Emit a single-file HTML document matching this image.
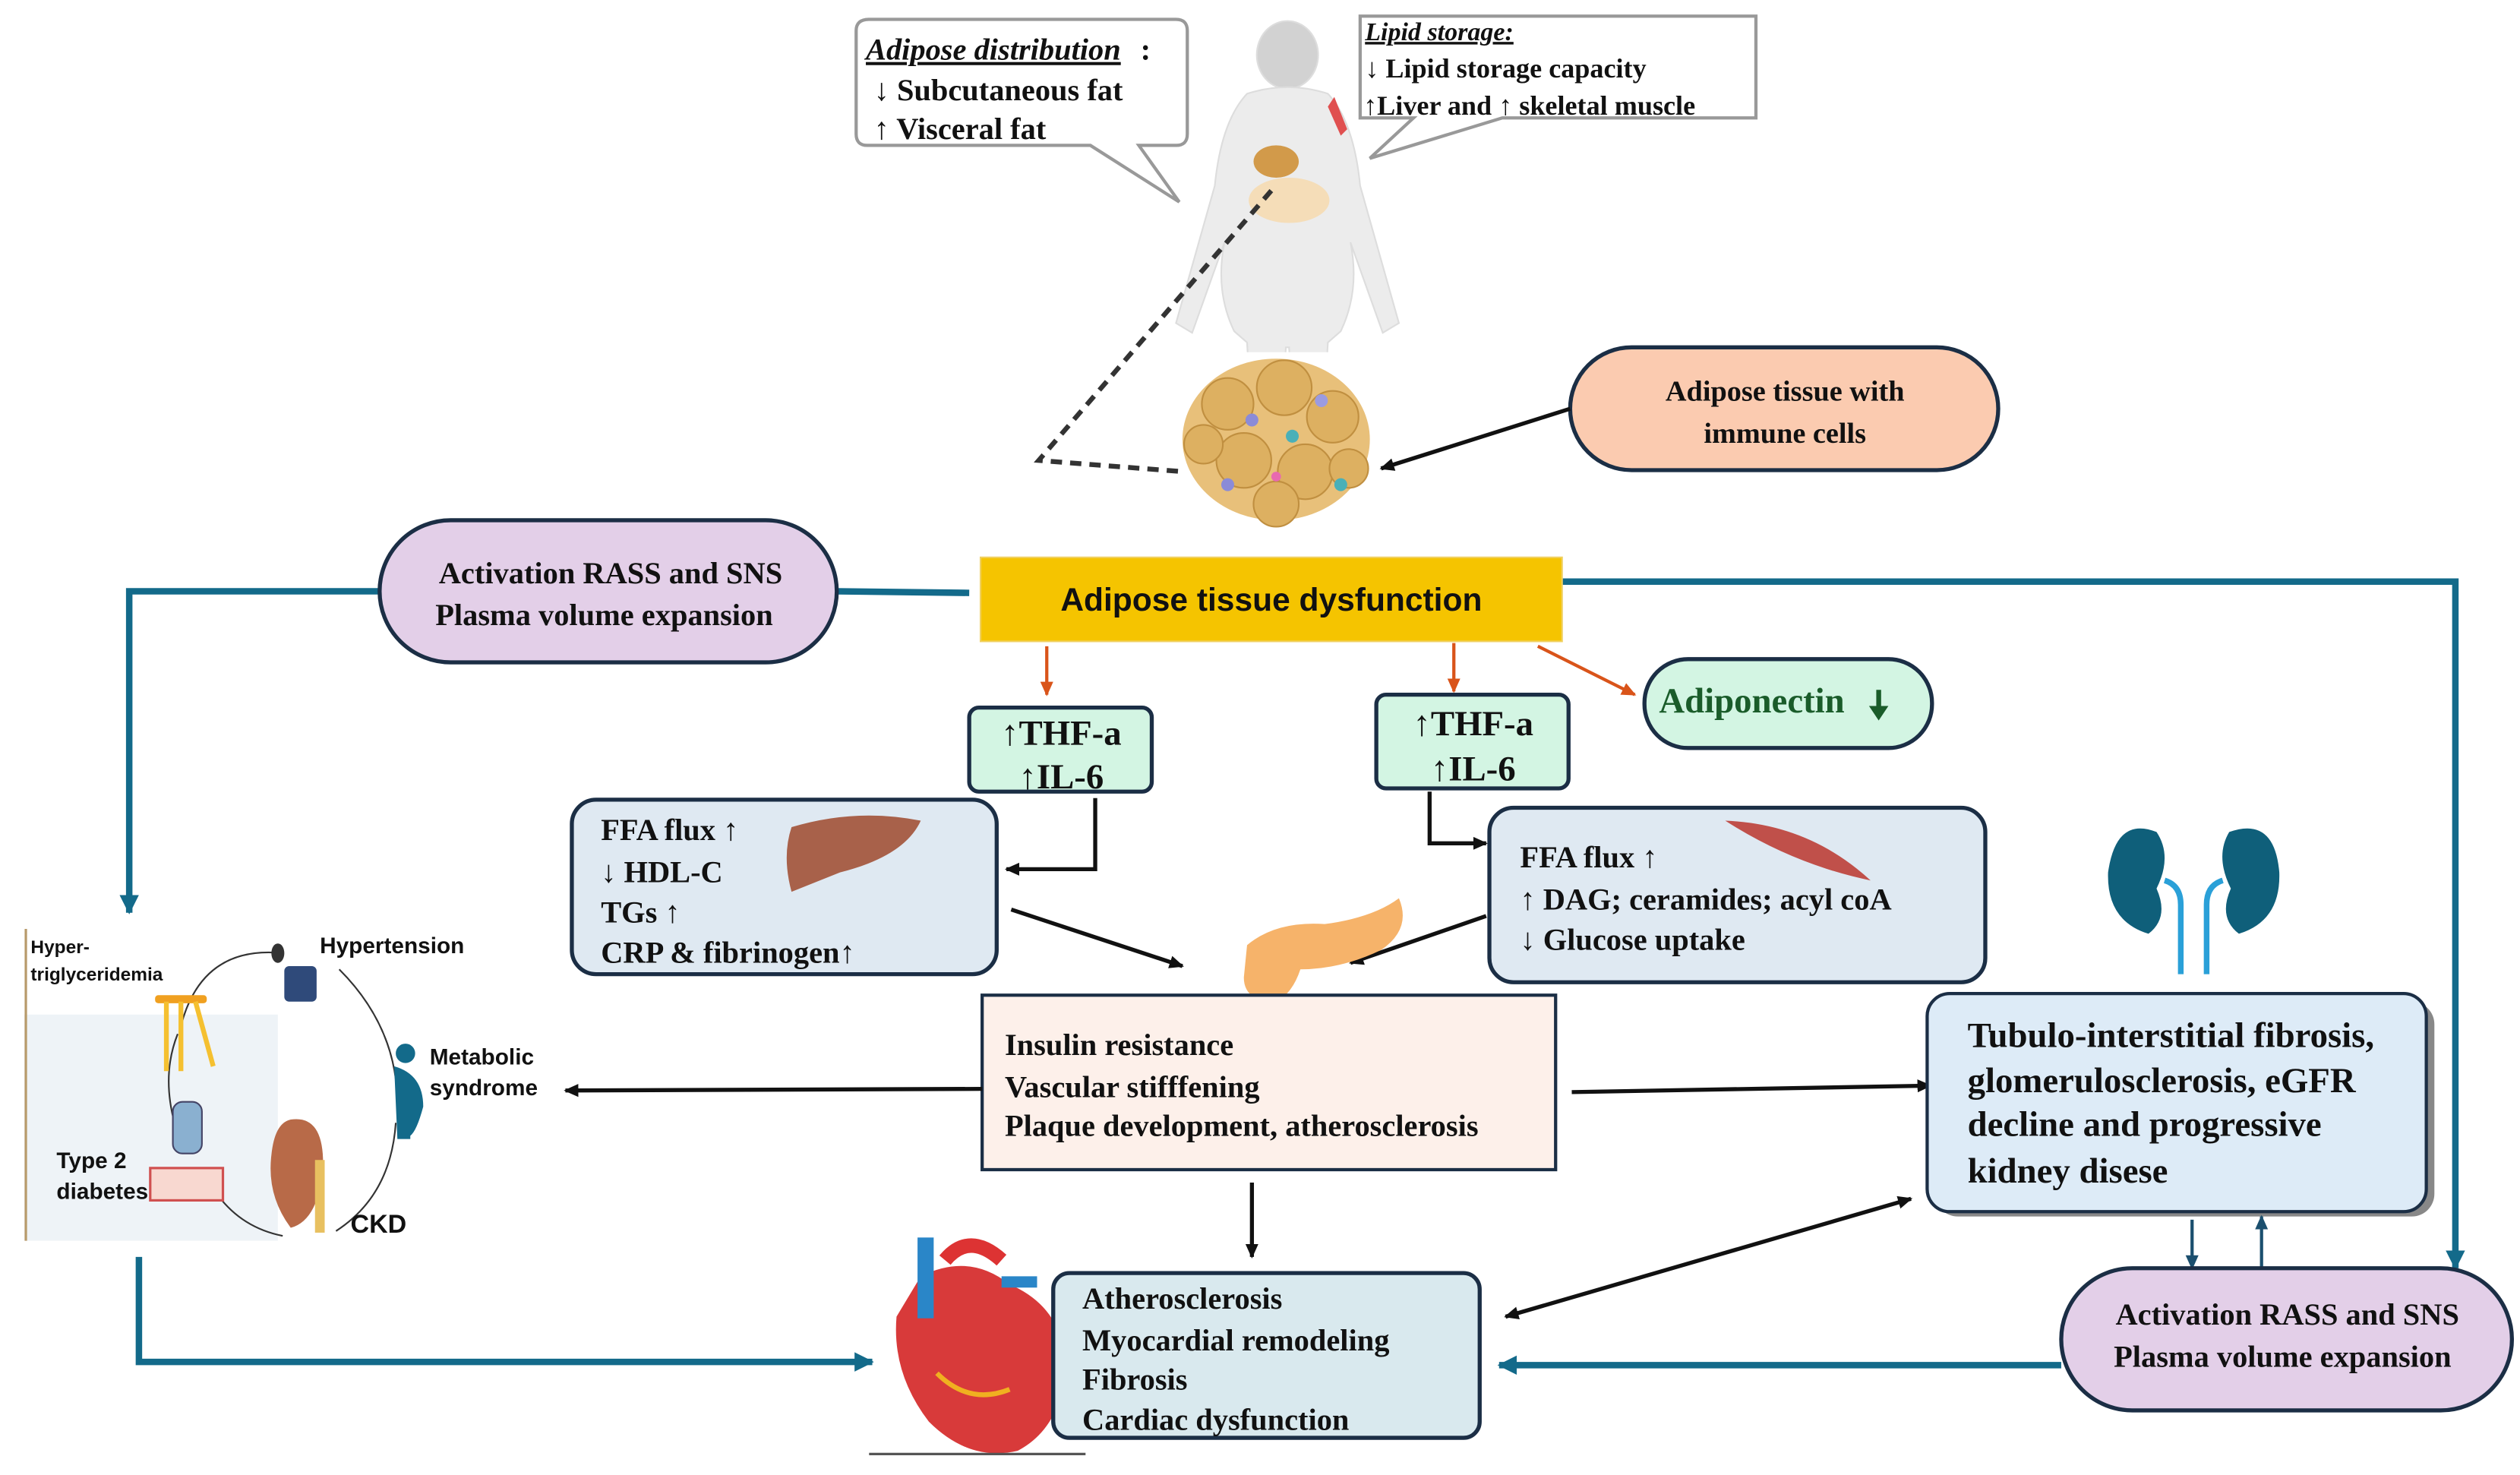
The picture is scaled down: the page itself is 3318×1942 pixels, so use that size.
<!DOCTYPE html>
<html><head><meta charset="utf-8"><style>
html,body{margin:0;padding:0;background:#fff;}
svg{display:block;}
.t{font-family:"Liberation Serif",serif;font-weight:bold;fill:#111;}
.s{font-family:"Liberation Sans",sans-serif;font-weight:bold;fill:#111;}
</style></head><body>
<svg width="3318" height="1942" viewBox="0 0 1560 913" preserveAspectRatio="none" xmlns="http://www.w3.org/2000/svg">
<defs>
<marker id="ab" markerWidth="10" markerHeight="10" refX="8" refY="5" orient="auto" markerUnits="userSpaceOnUse"><path d="M0,1 L9,5 L0,9 z" fill="#111"/></marker>
<marker id="ab2" markerWidth="10" markerHeight="10" refX="2" refY="5" orient="auto" markerUnits="userSpaceOnUse"><path d="M10,1 L1,5 L10,9 z" fill="#111"/></marker>
<marker id="ao" markerWidth="10" markerHeight="10" refX="8" refY="5" orient="auto" markerUnits="userSpaceOnUse"><path d="M0,1 L9,5 L0,9 z" fill="#d9541a"/></marker>
<marker id="at" markerWidth="14" markerHeight="14" refX="11" refY="7" orient="auto" markerUnits="userSpaceOnUse"><path d="M0,1 L12,7 L0,13 z" fill="#136a8a"/></marker>
<marker id="an" markerWidth="10" markerHeight="10" refX="8" refY="5" orient="auto" markerUnits="userSpaceOnUse"><path d="M0,1 L9,5 L0,9 z" fill="#1b4f6e"/></marker>
</defs>

<!-- human figure -->
<g fill="#ececec" stroke="#dddddd">
<ellipse cx="797" cy="34" rx="19" ry="21" fill="#d2d2d2"/>
<path d="M772,58 Q797,50 822,58 Q838,75 842,115 L866,200 L856,206 L836,150 Q842,180 830,205 L822,212 L818,285 L802,290 L798,215 L796,215 L792,290 L776,285 L772,212 L764,205 Q752,180 758,150 L738,206 L728,200 L752,115 Q756,75 772,58 Z"/>
</g>
<ellipse cx="790" cy="100" rx="14" ry="10" fill="#d29a4a"/>
<ellipse cx="798" cy="124" rx="25" ry="14" fill="#f5ddb8"/>
<path d="M826,60 l8,20 -4,4 -8,-18z" fill="#e05050"/>
<rect x="760" y="218" width="80" height="80" fill="#fff"/>

<!-- callouts -->
<path d="M538,12 H728 Q735,12 735,19 V83 Q735,90 728,90 H705 L730,125 L675,90 H537 Q530,90 530,83 V19 Q530,12 538,12 Z" fill="#fff" stroke="#999" stroke-width="2"/>
<text x="536" y="37" class="t" font-size="19" font-style="italic" text-decoration="underline">Adipose distribution</text><text x="706" y="37" class="t" font-size="19">:</text>
<text x="541" y="62" class="t" font-size="19">↓ Subcutaneous fat</text>
<text x="541" y="86" class="t" font-size="19">↑ Visceral fat</text>
<path d="M842,10 H1087 V73 H930 L848,98 L875,73 H842 Z" fill="#fff" stroke="#999" stroke-width="2"/>
<text x="845" y="25" class="t" font-size="16" font-style="italic" text-decoration="underline">Lipid storage:</text>
<text x="845" y="48" class="t" font-size="17">↓ Lipid storage capacity</text>
<text x="844" y="71" class="t" font-size="17">↑Liver and ↑ skeletal muscle</text>

<!-- dashed -->
<path d="M787,118 L643,285 L733,292" fill="none" stroke="#333" stroke-width="3" stroke-dasharray="7,5"/>
<!-- adipose cluster -->
<ellipse cx="790" cy="272" rx="58" ry="50" fill="#e8c07a"/>
<g fill="#ddb061" stroke="#c08f40" stroke-width="1">
<circle cx="760" cy="250" r="16"/><circle cx="795" cy="240" r="17"/><circle cx="825" cy="258" r="16"/><circle cx="770" cy="285" r="17"/><circle cx="808" cy="292" r="17"/><circle cx="745" cy="275" r="12"/><circle cx="835" cy="290" r="12"/><circle cx="790" cy="312" r="14"/>
</g>
<g><circle cx="775" cy="260" r="4" fill="#8b8bd8"/><circle cx="800" cy="270" r="4" fill="#4ab0b8"/><circle cx="818" cy="248" r="4" fill="#9b9be0"/><circle cx="760" cy="300" r="4" fill="#8b8bd8"/><circle cx="790" cy="295" r="3" fill="#e86ab0"/><circle cx="830" cy="300" r="4" fill="#4ab0b8"/></g>

<!-- adipose tissue with immune cells -->
<rect x="972" y="215" width="265" height="76" rx="38" fill="#fbcbb0" stroke="#1b2e45" stroke-width="2.5"/>
<text x="1105" y="248" class="t" font-size="18" text-anchor="middle">Adipose tissue with</text>
<text x="1105" y="274" class="t" font-size="18" text-anchor="middle">immune cells</text>
<line x1="972" y1="253" x2="855" y2="290" stroke="#111" stroke-width="2.5" marker-end="url(#ab)"/>

<!-- teal lines -->
<g fill="none" stroke="#136a8a" stroke-width="4">
<line x1="600" y1="367" x2="518" y2="366"/>
<path d="M236,366 H80 V565" marker-end="url(#at)"/>
<path d="M960,360 H1520 V785" marker-end="url(#at)"/>
<path d="M86,778 V843 H540" marker-end="url(#at)"/>
<path d="M1276,845 H928" marker-end="url(#at)"/>
</g>

<!-- RASS left -->
<rect x="235" y="322" width="283" height="88" rx="44" fill="#e3cfe8" stroke="#1b2e45" stroke-width="2.5"/>
<text x="378" y="361" class="t" font-size="19" text-anchor="middle">Activation RASS and SNS</text>
<text x="374" y="387" class="t" font-size="19" text-anchor="middle">Plasma volume expansion</text>

<!-- dysfunction -->
<rect x="607" y="345" width="360" height="52" fill="#f5c400" stroke="#f0d060" stroke-width="1"/>
<text x="787" y="378" class="s" font-size="20" text-anchor="middle">Adipose tissue dysfunction</text>

<!-- orange arrows -->
<g stroke="#d9541a" stroke-width="2" fill="none">
<line x1="648" y1="400" x2="648" y2="430" marker-end="url(#ao)"/>
<line x1="900" y1="398" x2="900" y2="428" marker-end="url(#ao)"/>
<line x1="952" y1="400" x2="1012" y2="430" marker-end="url(#ao)"/>
</g>

<!-- THF boxes -->
<rect x="600" y="438" width="113" height="52" rx="6" fill="#d3f5e3" stroke="#1b2e45" stroke-width="2.5"/>
<text x="657" y="461" class="t" font-size="22" text-anchor="middle">↑THF-a</text>
<text x="657" y="488" class="t" font-size="22" text-anchor="middle">↑IL-6</text>
<rect x="852" y="430" width="119" height="58" rx="6" fill="#d3f5e3" stroke="#1b2e45" stroke-width="2.5"/>
<text x="912" y="455" class="t" font-size="22" text-anchor="middle">↑THF-a</text>
<text x="912" y="483" class="t" font-size="22" text-anchor="middle">↑IL-6</text>

<!-- adiponectin -->
<rect x="1018" y="408" width="178" height="55" rx="27" fill="#d3f5e3" stroke="#1b2e45" stroke-width="2.5"/>
<text x="1027" y="441" font-family="Liberation Serif,serif" font-weight="bold" font-size="22" fill="#1a5c2a">Adiponectin</text>
<path d="M1163,427 V440" stroke="#1a5c2a" stroke-width="3"/><path d="M1157,437 L1163,446 L1169,437z" fill="#1a5c2a"/>

<!-- FFA left -->
<rect x="354" y="495" width="263" height="108" rx="15" fill="#dfe9f2" stroke="#1b2e45" stroke-width="2.5"/>
<path d="M490,512 Q530,500 570,508 Q560,530 520,540 Q500,548 490,552 Q484,530 490,512Z" fill="#a8614a"/>
<text x="372" y="520" class="t" font-size="19">FFA flux ↑</text>
<text x="372" y="546" class="t" font-size="19">↓ HDL-C</text>
<text x="372" y="571" class="t" font-size="19">TGs ↑</text>
<text x="372" y="596" class="t" font-size="19">CRP &amp; fibrinogen↑</text>
<path d="M678,494 V538 H623" fill="none" stroke="#111" stroke-width="2.5" marker-end="url(#ab)"/>

<!-- FFA right -->
<rect x="922" y="500" width="307" height="108" rx="15" fill="#dfe9f2" stroke="#1b2e45" stroke-width="2.5"/>
<path d="M1068,508 Q1120,510 1158,545 Q1110,535 1068,508Z" fill="#c0504a"/>
<text x="941" y="537" class="t" font-size="19">FFA flux ↑</text>
<text x="941" y="563" class="t" font-size="19">↑ DAG; ceramides; acyl coA</text>
<text x="941" y="588" class="t" font-size="19">↓ Glucose uptake</text>
<path d="M885,490 V522 H920" fill="none" stroke="#111" stroke-width="2.5" marker-end="url(#ab)"/>

<line x1="626" y1="563" x2="732" y2="598" stroke="#111" stroke-width="2.5" marker-end="url(#ab)"/>
<line x1="920" y1="567" x2="836" y2="596" stroke="#111" stroke-width="2.5" marker-end="url(#ab)"/>

<!-- pancreas -->
<path d="M772,585 Q790,570 820,572 Q850,568 866,556 Q874,575 855,588 Q830,600 805,600 Q800,615 790,620 Q770,620 770,605 Z" fill="#f6b36a"/>

<!-- center box -->
<rect x="608" y="616" width="355" height="108" fill="#fdf0ea" stroke="#1b2e45" stroke-width="2"/>
<text x="622" y="653" class="t" font-size="19">Insulin resistance</text>
<text x="622" y="679" class="t" font-size="19">Vascular stifffening</text>
<text x="622" y="703" class="t" font-size="19">Plaque development, atherosclerosis</text>
<line x1="608" y1="674" x2="350" y2="675" stroke="#111" stroke-width="2.5" marker-end="url(#ab)"/>
<line x1="973" y1="676" x2="1195" y2="672" stroke="#111" stroke-width="2.5" marker-end="url(#ab)"/>
<line x1="775" y1="732" x2="775" y2="778" stroke="#111" stroke-width="2.5" marker-end="url(#ab)"/>

<!-- left cycle -->
<rect x="15" y="628" width="157" height="140" fill="#eef3f7"/>
<line x1="16" y1="575" x2="16" y2="768" stroke="#b89a6a" stroke-width="1.5"/>
<path d="M112,635 Q125,585 175,590" fill="none" stroke="#333" stroke-width="1"/>
<path d="M210,600 Q240,630 245,668" fill="none" stroke="#333" stroke-width="1"/>
<path d="M245,695 Q242,740 208,762" fill="none" stroke="#333" stroke-width="1"/>
<path d="M175,765 Q150,760 135,740" fill="none" stroke="#333" stroke-width="1"/>
<path d="M108,695 Q100,665 110,640" fill="none" stroke="#333" stroke-width="1"/>
<rect x="96" y="616" width="32" height="5" rx="2" fill="#f0a020"/>
<g stroke="#f5c030" stroke-width="3"><line x1="103" y1="620" x2="103" y2="663"/><line x1="112" y1="620" x2="112" y2="663"/><line x1="121" y1="620" x2="132" y2="660"/></g>
<rect x="176" y="598" width="20" height="22" rx="3" fill="#2f4a7a"/>
<ellipse cx="172" cy="590" rx="4" ry="6" fill="#333"/>
<circle cx="251" cy="652" r="6" fill="#136a8a"/>
<path d="M244,660 Q262,665 262,685 Q258,700 254,703 V705 H246 Z" fill="#136a8a"/>
<rect x="107" y="682" width="18" height="32" rx="6" fill="#8ab0d0" stroke="#446" stroke-width="1"/>
<rect x="93" y="723" width="45" height="20" fill="#f8d8d0" stroke="#d05050" stroke-width="1.5"/>
<path d="M180,693 Q200,690 200,720 Q198,755 180,760 Q165,740 168,715 Q170,695 180,693Z" fill="#b86a48"/>
<rect x="195" y="718" width="6" height="45" fill="#e8c060"/>
<text x="19" y="590" class="s" font-size="11.5">Hyper-</text>
<text x="19" y="607" class="s" font-size="11.5">triglyceridemia</text>
<text x="198" y="590" class="s" font-size="14">Hypertension</text>
<text x="266" y="659" class="s" font-size="14">Metabolic</text>
<text x="266" y="678" class="s" font-size="14">syndrome</text>
<text x="35" y="723" class="s" font-size="14">Type 2</text>
<text x="35" y="742" class="s" font-size="14">diabetes</text>
<text x="217" y="763" class="s" font-size="16">CKD</text>

<!-- heart -->
<path d="M570,790 Q600,775 625,795 Q660,810 660,850 Q655,885 630,898 Q600,905 575,880 Q552,850 555,815 Z" fill="#d83a3a"/>
<path d="M580,850 Q600,870 625,860" stroke="#f0b020" stroke-width="3" fill="none"/>
<rect x="568" y="766" width="10" height="50" fill="#2a86c8"/>
<path d="M585,780 Q600,762 620,780" stroke="#d33" stroke-width="9" fill="none"/>
<rect x="620" y="790" width="22" height="7" fill="#2a86c8"/>
<line x1="538" y1="900" x2="672" y2="900" stroke="#555" stroke-width="1.5"/>

<!-- heart box -->
<rect x="652" y="788" width="264" height="102" rx="10" fill="#d9e9ee" stroke="#1b2e45" stroke-width="2.5"/>
<text x="670" y="810" class="t" font-size="19">Atherosclerosis</text>
<text x="670" y="836" class="t" font-size="19">Myocardial remodeling</text>
<text x="670" y="860" class="t" font-size="19">Fibrosis</text>
<text x="670" y="885" class="t" font-size="19">Cardiac dysfunction</text>

<!-- kidneys icon -->
<path d="M1335,515 Q1310,505 1305,540 Q1304,570 1330,578 Q1343,568 1335,550 Q1345,530 1335,515Z" fill="#0f5f7a"/>
<path d="M1380,515 Q1408,505 1411,540 Q1412,570 1386,578 Q1373,568 1381,550 Q1371,530 1380,515Z" fill="#0f5f7a"/>
<g stroke="#2aa0d8" stroke-width="3.5" fill="none"><path d="M1340,545 Q1350,548 1350,560 V603"/><path d="M1376,545 Q1366,548 1366,560 V603"/></g>

<!-- kidney box -->
<rect x="1198" y="620" width="309" height="133" rx="14" fill="#888"/>
<rect x="1193" y="615" width="309" height="135" rx="14" fill="#ddebf7" stroke="#1b2e45" stroke-width="2"/>
<text x="1218" y="648" class="t" font-size="22">Tubulo-interstitial fibrosis,</text>
<text x="1218" y="676" class="t" font-size="22">glomerulosclerosis, eGFR</text>
<text x="1218" y="703" class="t" font-size="22">decline and progressive</text>
<text x="1218" y="732" class="t" font-size="22">kidney disese</text>

<line x1="1357" y1="755" x2="1357" y2="785" stroke="#1b4f6e" stroke-width="2" marker-end="url(#an)"/>
<line x1="1400" y1="787" x2="1400" y2="753" stroke="#1b4f6e" stroke-width="2" marker-end="url(#an)"/>

<line x1="932" y1="815" x2="1183" y2="742" stroke="#111" stroke-width="2.5" marker-end="url(#ab)" marker-start="url(#ab2)"/>

<!-- RASS right -->
<rect x="1276" y="785" width="279" height="88" rx="44" fill="#e3cfe8" stroke="#1b2e45" stroke-width="2.5"/>
<text x="1416" y="820" class="t" font-size="19" text-anchor="middle">Activation RASS and SNS</text>
<text x="1413" y="846" class="t" font-size="19" text-anchor="middle">Plasma volume expansion</text>
</svg>
</body></html>
